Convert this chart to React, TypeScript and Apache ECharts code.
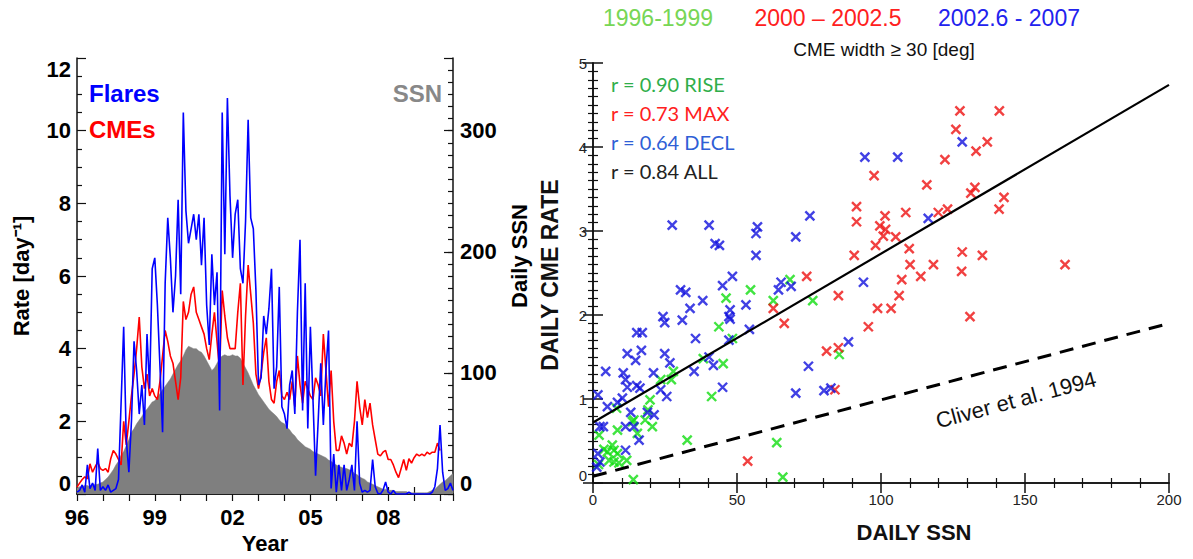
import React, { useEffect, useRef } from 'react';
import * as echarts from 'echarts';

// ---------- Left panel data (sampled every 0.1 yr from 1996.0) ----------
const START_YEAR = 1996;
const STEP = 0.1;

const flares = [
  0.05, 0.1, 0.25, 0.05, 0.8, 0.15, 0.3, 0.1, 1.25, 0.1,
  0.2, 0.1, 0.25, 0.05, 0.1, 0.15, 0.4, 2.5, 4.6, 1.5,
  0.6, 2.0, 4.2, 3.4, 2.2, 3.0, 1.9, 4.4, 2.9, 6.2,
  6.5, 5.2, 3.5, 1.7, 5.8, 7.6, 6.5, 5.0, 6.0, 8.1,
  5.5, 10.5, 7.8, 6.9, 7.3, 7.7, 7.0, 7.7, 6.3, 7.6,
  5.2, 4.1, 6.6, 5.2, 6.1, 2.3, 10.5, 6.6, 10.9, 8.2,
  6.5, 7.7, 8.1, 6.2, 5.8, 7.5, 10.3, 7.6, 7.3, 5.6,
  3.0, 3.2, 4.9, 4.4, 5.1, 6.2, 2.9, 3.5, 5.7, 2.4,
  2.2, 1.8, 3.0, 3.4, 2.2, 5.0, 7.0, 2.3, 5.8, 1.8,
  4.6, 2.6, 0.5, 2.0, 3.6, 1.9, 3.4, 4.5, 0.15, 1.1,
  0.05, 0.8, 0.1, 0.8, 0.1, 0.4, 0.8, 0.1, 2.0, 0.3,
  0.05, 0.1, 0.05, 0.1, 0.95, 0.2, 0.02, 0.0, 0.1, 0.33,
  0.05, 0.0, 0.1, 0.0, 0.0, 0.0, 0.0, 0.0, 0.05, 0.0,
  0.0, 0.0, 0.0, 0.0, 0.0, 0.0, 0.0, 0.05, 0.2, 0.7,
  1.9, 0.6, 0.1, 0.15, 0.3, 0.1,
];

const cmes = [
  0.19, 0.3, 0.4, 0.47, 0.42, 0.83, 0.6, 0.75, 0.88, 0.7,
  0.65, 0.7, 0.6, 0.97, 1.2, 1.1, 0.95, 0.8, 2.0, 1.35,
  2.0, 2.7, 3.3, 4.0, 4.87, 3.5, 2.9, 3.3, 2.7, 2.9,
  2.7, 2.6, 3.1, 3.8, 4.5, 4.2, 3.8, 3.6, 3.1, 2.6,
  3.2, 5.3, 4.8, 5.0, 5.5, 5.7, 5.0, 4.8, 4.6, 4.4,
  4.0, 3.7, 4.4, 5.0, 4.2, 3.4, 5.6, 4.9, 4.3, 4.0,
  4.0, 4.0, 5.0, 5.8, 3.0, 4.9, 6.3, 5.5, 4.7, 3.3,
  2.9, 3.3, 3.9, 4.3, 3.1, 2.6, 2.5, 3.1, 3.4, 2.7,
  2.6, 2.8, 2.6, 3.1, 2.4, 3.8, 3.0, 2.5, 3.1, 2.9,
  2.7, 2.6, 3.2, 3.0, 2.7, 4.4, 3.4, 2.4, 3.4, 2.0,
  1.2, 1.2, 1.6, 1.4, 1.1, 1.4, 1.3, 2.0, 3.1, 2.4,
  1.9, 2.6, 2.1, 2.5, 1.9, 1.5, 1.1, 1.05, 1.15, 1.2,
  0.95, 0.95, 0.8, 0.6, 0.45, 0.7, 0.95, 0.65, 0.97, 0.85,
  1.0, 1.1, 1.05, 1.1, 1.05, 1.15, 1.1, 1.15, 1.15, 1.4,
  1.2,
];

const ssn = [
  5, 6, 6, 7, 7, 6, 7, 8, 8, 9,
  10, 12, 14, 17, 20, 24, 27, 32, 35, 40,
  45, 51, 54, 58, 61, 64, 68, 70, 73, 76,
  77, 80, 83, 86, 89, 92, 95, 99, 103, 107,
  110, 114, 119, 122, 121, 120, 120, 118, 117, 114,
  110, 106, 102, 104, 108, 112, 114, 115, 114, 114,
  115, 114, 114, 112, 108, 104, 100, 95, 90, 86,
  82, 79, 76, 73, 70, 68, 66, 64, 61, 59,
  58, 55, 53, 50, 48, 45, 43, 41, 39, 38,
  37, 35, 34, 33, 32, 31, 30, 28, 27, 25,
  24, 23, 22, 21, 21, 20, 19, 17, 16, 14,
  13, 12, 10, 9, 8, 7, 6, 5, 4, 4,
  3, 3, 3, 2, 2, 2, 2, 2, 1, 1,
  1, 1, 1, 1, 1, 1, 2, 3, 4, 6,
  8, 10, 11, 13, 15, 17,
];

const yearTickLabels = ['96', '99', '02', '05', '08'];

// ---------- Right panel data ----------
const risePoints = [
  [68.4, 2.42], [54.7, 2.30], [46.2, 2.20], [62.6, 2.17], [76.3, 2.17], [43.7, 1.86],
  [48.4, 1.72], [38.3, 1.48], [45.2, 1.42], [85.5, 1.53], [41.2, 1.03], [63.8, 0.48],
  [65.9, 0.07], [27.9, 1.33], [27.2, 1.23], [23.5, 1.23], [19.8, 0.99], [19.1, 0.87],
  [14.2, 0.75], [18.1, 0.75], [20.6, 0.67], [8.5, 0.63], [13.7, 0.73], [15.4, 0.59],
  [2.1, 0.57], [6.7, 0.45], [3.8, 0.40], [5.0, 0.37], [7.3, 0.39], [8.5, 0.35],
  [5.6, 0.27], [11.7, 0.27], [7.3, 0.25], [9.0, 0.24], [14.0, 0.04], [32.7, 0.51],
  [1.9, 0.22], [8.2, 0.89],
];

const maxPoints = [
  [127.4, 4.43], [141.1, 4.43], [126.0, 4.21], [136.9, 4.06], [133.0, 3.95], [122.2, 3.85],
  [97.6, 3.66], [115.9, 3.55], [132.6, 3.52], [131.2, 3.45], [142.7, 3.40], [141.0, 3.26],
  [91.5, 3.29], [91.5, 3.11], [101.4, 3.18], [108.6, 3.22], [119.9, 3.22], [123.1, 3.26],
  [99.6, 3.06], [101.6, 3.02], [100.8, 2.94], [105.1, 2.93], [98.1, 2.83], [90.7, 2.71],
  [109.8, 2.79], [110.1, 2.60], [118.2, 2.60], [128.2, 2.75], [135.2, 2.71], [128.0, 2.52],
  [107.2, 2.42], [113.8, 2.46], [106.3, 2.23], [98.8, 2.08], [103.5, 2.08], [95.6, 1.86],
  [85.2, 2.23], [74.2, 2.46], [62.6, 2.08], [66.4, 1.90], [81.1, 1.57], [85.2, 1.61],
  [84.0, 1.11], [130.9, 1.98], [163.9, 2.60], [53.7, 0.26],
];

const declPoints = [
  [128.2, 4.06], [94.4, 3.88], [105.8, 3.88], [116.4, 3.15], [75.3, 3.18], [40.3, 3.07],
  [42.4, 2.85], [43.9, 2.83], [57.1, 3.05], [56.6, 2.97], [56.6, 2.71], [70.4, 2.93],
  [48.4, 2.46], [45.0, 2.35], [65.3, 2.39], [64.4, 2.30], [68.8, 2.34], [53.1, 2.12],
  [47.6, 2.06], [47.2, 1.98], [47.6, 1.95], [54.3, 1.83], [47.2, 1.70], [38.1, 2.17],
  [93.9, 2.39], [88.7, 1.68], [74.8, 1.39], [70.4, 1.07], [80.2, 1.10], [82.6, 1.13],
  [45.0, 1.14], [40.3, 1.50], [41.8, 1.40], [27.5, 3.07], [30.4, 2.30], [32.2, 2.27],
  [33.7, 2.08], [31.0, 1.94], [24.3, 1.98], [24.9, 1.91], [35.6, 1.72], [15.2, 1.79],
  [17.1, 1.79], [16.8, 1.58], [11.9, 1.54], [14.8, 1.46], [24.9, 1.54], [26.7, 1.43],
  [21.0, 1.31], [4.4, 1.33], [10.5, 1.31], [11.3, 1.23], [11.9, 1.14], [16.3, 1.13],
  [15.2, 1.16], [23.5, 1.11], [25.6, 1.03], [35.1, 1.33], [1.7, 1.05], [5.0, 0.91],
  [8.5, 0.96], [10.2, 1.01], [13.1, 0.84], [18.9, 0.84], [21.2, 0.81], [2.4, 0.67],
  [3.6, 0.67], [11.3, 0.67], [14.2, 0.67], [16.0, 0.51], [11.3, 0.39], [1.7, 0.35],
  [2.4, 0.25], [1.3, 0.19],
];

const fitLine = [[0, 0.72], [200, 4.74]];
const cliverLine = [[0, 0.08], [200, 1.9]];

const FONT = '"Liberation Sans", Arial, Helvetica, sans-serif';

export default function App() {
  const ref = useRef<HTMLDivElement>(null);

  useEffect(() => {
    if (!ref.current) return;
    const chart = echarts.init(ref.current, undefined, { renderer: 'svg' });

    const toSeries = (arr: number[]) => arr.map((v, i) => [START_YEAR + i * STEP, v]);

    const boxLine = { show: true, lineStyle: { color: '#111', width: 1.5 } };
    const leftTick = { show: true, inside: true, length: 8, lineStyle: { color: '#111', width: 1.2 } };
    const rightTick = { show: true, inside: true, length: 10, lineStyle: { color: '#111', width: 1.5 } };

    const boldLabel = { fontFamily: FONT, fontWeight: 'bold', fontSize: 22, color: '#000' };
    const plainLabel = { fontFamily: FONT, fontSize: 15, color: '#222' };

    const cross = 'path://M0,0L10,10M10,0L0,10';

    const scatter = (data: number[][], color: string) => ({
      type: 'scatter',
      xAxisIndex: 2,
      yAxisIndex: 3,
      data,
      symbol: cross,
      symbolSize: 9,
      itemStyle: { color: 'transparent', borderColor: color, borderWidth: 2.4 },
      z: 3,
    });

    const txt = (text: string, x: number, y: number, font: string, fill: string, align = 'center', rotation = 0) => ({
      type: 'text',
      x,
      y,
      rotation,
      style: {
        text,
        fill,
        font,
        align,
        textAlign: align,
        verticalAlign: 'middle',
        textVerticalAlign: 'middle',
      },
    });

    const option: any = {
      animation: false,
      grid: [
        { left: 77, top: 58, width: 376, height: 436 },
        { left: 593, top: 63, width: 576, height: 420 },
      ],
      xAxis: [
        {
          gridIndex: 0, type: 'value', min: 1996, max: 2010.5, interval: 1, position: 'bottom',
          axisLine: boxLine, axisTick: { ...leftTick, length: 7 }, splitLine: { show: false },
          axisLabel: {
            ...boldLabel, margin: 12, showMaxLabel: false,
            formatter: (v: number) => {
              const k = Math.round(v - 1996);
              if (Math.abs(v - 1996 - k) > 1e-6 || k % 3 !== 0) return '';
              return yearTickLabels[k / 3] ?? '';
            },
          },
        },
        {
          gridIndex: 0, type: 'value', min: 1996, max: 2010.5, interval: 1, position: 'top',
          axisLine: boxLine, axisTick: { ...leftTick, length: 7 }, splitLine: { show: false },
          axisLabel: { show: false },
        },
        {
          gridIndex: 1, type: 'value', min: 0, max: 200, interval: 50, position: 'bottom',
          axisLine: boxLine, axisTick: rightTick, splitLine: { show: false },
          minorTick: { show: true, splitNumber: 5, length: 5, lineStyle: { color: '#111', width: 1.2 } },
          axisLabel: { ...plainLabel, margin: 9 },
        },
        {
          gridIndex: 1, type: 'value', min: 0, max: 200, interval: 50, position: 'top',
          axisLine: boxLine, axisTick: rightTick, splitLine: { show: false },
          minorTick: { show: true, splitNumber: 5, length: 5, lineStyle: { color: '#111', width: 1.2 } },
          axisLabel: { show: false },
        },
      ],
      yAxis: [
        {
          gridIndex: 0, type: 'value', min: 0, max: 12, interval: 2, position: 'left',
          axisLine: boxLine, axisTick: { ...leftTick, length: 9 }, splitLine: { show: false },
          minorTick: { show: true, splitNumber: 4, length: 5, lineStyle: { color: '#111', width: 1.2 } },
          axisLabel: { ...boldLabel, margin: 6, verticalAlignMinLabel: 'bottom', verticalAlignMaxLabel: 'top' },
        },
        {
          gridIndex: 0, type: 'value', min: 0, max: 360, interval: 10, position: 'right',
          axisLine: boxLine, axisTick: { ...leftTick, length: 5 }, splitLine: { show: false },
          axisLabel: {
            ...boldLabel, margin: 7, showMaxLabel: false, verticalAlignMinLabel: 'bottom',
            formatter: (v: number) => (Math.round(v) % 100 === 0 ? String(Math.round(v)) : ''),
          },
        },
        {
          gridIndex: 0, type: 'value', min: 0, max: 360, interval: 100, position: 'right',
          axisLine: { show: false }, axisTick: { ...leftTick, length: 9 }, splitLine: { show: false },
          axisLabel: { show: false },
        },
        {
          gridIndex: 1, type: 'value', min: 0, max: 5, interval: 1, position: 'left',
          axisLine: boxLine, axisTick: rightTick, splitLine: { show: false },
          minorTick: { show: true, splitNumber: 10, length: 5, lineStyle: { color: '#111', width: 1.2 } },
          axisLabel: { ...plainLabel, margin: 6, verticalAlignMinLabel: 'bottom' },
        },
        {
          gridIndex: 1, type: 'value', min: 0, max: 5, interval: 1, position: 'right',
          axisLine: boxLine, axisTick: rightTick, splitLine: { show: false },
          minorTick: { show: true, splitNumber: 10, length: 5, lineStyle: { color: '#111', width: 1.2 } },
          axisLabel: { show: false },
        },
      ],
      series: [
        {
          type: 'line', xAxisIndex: 0, yAxisIndex: 1, data: toSeries(ssn), symbol: 'none',
          lineStyle: { color: '#7f7f7f', width: 0.5 }, areaStyle: { color: '#7f7f7f', opacity: 1 }, z: 1,
        },
        {
          type: 'line', xAxisIndex: 0, yAxisIndex: 0, data: toSeries(cmes), symbol: 'none',
          lineStyle: { color: '#ff0000', width: 1.6 }, z: 2,
        },
        {
          type: 'line', xAxisIndex: 0, yAxisIndex: 0, data: toSeries(flares), symbol: 'none',
          lineStyle: { color: '#0000ff', width: 1.6 }, z: 3,
        },
        scatter(risePoints, '#11dd11'),
        scatter(maxPoints, '#ee1111'),
        scatter(declPoints, '#1111dd'),
        {
          type: 'line', xAxisIndex: 2, yAxisIndex: 3, data: fitLine, symbol: 'none',
          lineStyle: { color: '#000', width: 2.2 }, z: 4,
        },
        {
          type: 'line', xAxisIndex: 2, yAxisIndex: 3, data: cliverLine, symbol: 'none',
          lineStyle: { color: '#000', width: 3, type: [14, 9] }, z: 4,
        },
      ],
      graphic: [
        txt('Flares', 89, 93, `bold 24px ${FONT}`, '#0000ff', 'left'),
        txt('CMEs', 89, 129, `bold 24px ${FONT}`, '#ff0000', 'left'),
        txt('SSN', 442, 93, `bold 24px ${FONT}`, '#888888', 'right'),
        txt('Rate [day\u207B\u00B9]', 21, 276, `bold 22px ${FONT}`, '#000', 'center', Math.PI / 2),
        txt('Daily SSN', 519, 256, `bold 22px ${FONT}`, '#000', 'center', Math.PI / 2),
        txt('Year', 265, 543, `bold 22px ${FONT}`, '#000'),
        txt('1996-1999', 658, 18, `23px ${FONT}`, '#77d655'),
        txt('2000 \u2013 2002.5', 828, 18, `23px ${FONT}`, '#ff2020'),
        txt('2002.6 - 2007', 1009, 18, `23px ${FONT}`, '#2222ee'),
        txt('CME width \u2265 30 [deg]', 884, 49, `19px ${FONT}`, '#111'),
        txt('r = 0.90 RISE', 611, 84, `20px Lato, ${FONT}`, '#2fae4a', 'left'),
        txt('r = 0.73 MAX', 611, 113, `20px Lato, ${FONT}`, '#ff2020', 'left'),
        txt('r = 0.64 DECL', 611, 142, `20px Lato, ${FONT}`, '#2f5fd6', 'left'),
        txt('r = 0.84 ALL', 611, 171, `20px Lato, ${FONT}`, '#222', 'left'),
        txt('DAILY CME RATE', 550, 275, `bold 23px ${FONT}`, '#111', 'center', Math.PI / 2),
        txt('DAILY SSN', 914, 532, `bold 22px ${FONT}`, '#111'),
        txt('Cliver et al. 1994', 1016, 400, `22px ${FONT}`, '#111', 'center', (15 * Math.PI) / 180),
      ],
    };

    chart.setOption(option);
    return () => chart.dispose();
  }, []);

  return (
    <div
      ref={ref}
      style={{ position: 'absolute', left: 0, top: 0, width: 1193, height: 559, background: '#fff' }}
    />
  );
}
